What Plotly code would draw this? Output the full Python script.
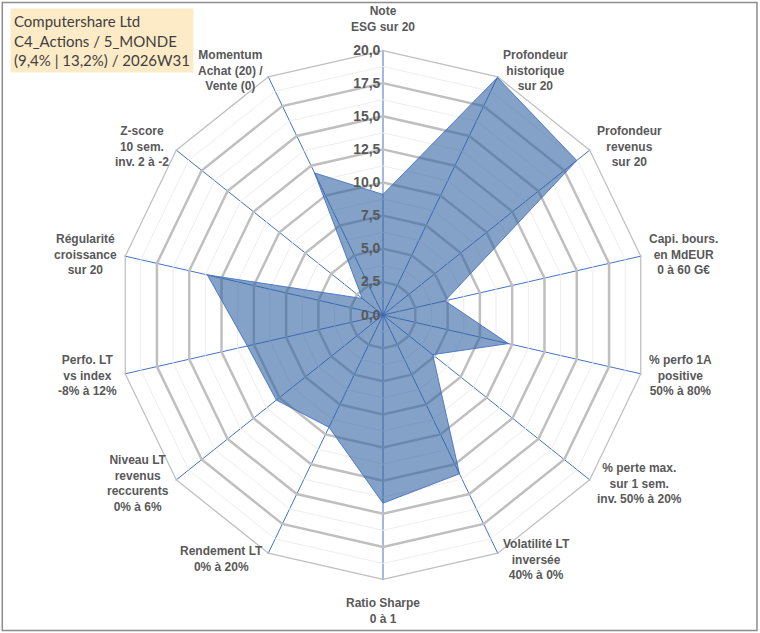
import math
import plotly.graph_objects as go

# axes of the radar, clockwise from the top
categories = [
    'Note<br>ESG sur 20',
    'Profondeur<br>historique<br>sur 20',
    'Profondeur<br>revenus<br>sur 20',
    'Capi. bours.<br>en MdEUR<br>0 à 60 G€',
    '% perfo 1A<br>positive<br>50% à 80%',
    '% perte max.<br>sur 1 sem.<br>inv. 50% à 20%',
    'Volatilité LT<br>inversée<br>40% à 0%',
    'Ratio Sharpe<br>0 à 1',
    'Rendement LT<br>0% à 20%',
    'Niveau LT<br>revenus<br>reccurents<br>0% à 6%',
    'Perfo. LT<br>vs index<br>-8% à 12%',
    'Régularité<br>croissance<br>sur 20',
    'Z-score<br>10 sem.<br>inv. 2 à -2',
    'Momentum<br>Achat (20) /<br>Vente (0)',
]
scores = [9.1, 19.9, 18.7, 4.8, 9.7, 4.8, 13.3, 14.2, 9.4, 10.3, 10.5, 13.6, 2.0, 11.9]

major_ticks = [2.5, 5.0, 7.5, 10.0, 12.5, 15.0, 17.5, 20.0]
minor_ticks = [1.25, 3.75, 6.25, 8.75, 11.25, 13.75, 16.25, 18.75]
tick_labels = ['0,0', '2,5', '5,0', '7,5', '10,0', '12,5', '15,0', '17,5', '20,0']

title_lines = ['Computershare Ltd', 'C4_Actions / 5_MONDE', '(9,4% | 13,2%) / 2026W31']

W, H = 760, 633
cx, cy, R = 383, 315, 265  # centre and outer radius of the radar, px

fig = go.Figure()

# rings: light minor rings, heavier gray major rings
for r in minor_ticks:
    fig.add_trace(go.Scatterpolar(r=[r] * (len(categories) + 1), theta=categories + categories[:1],
                                  mode='lines', line=dict(color='#ededed', width=1),
                                  hoverinfo='skip', showlegend=False))
for r in major_ticks:
    fig.add_trace(go.Scatterpolar(r=[r] * (len(categories) + 1), theta=categories + categories[:1],
                                  mode='lines', line=dict(color='#bfbfbf', width=2.5),
                                  hoverinfo='skip', showlegend=False))

fig.add_trace(go.Scatterpolar(r=scores + scores[:1], theta=categories + categories[:1],
                              mode='lines', fill='toself',
                              fillcolor='rgba(50,98,162,0.6)',
                              line=dict(color='rgba(68,114,196,0.9)', width=1),
                              showlegend=False))

fig.update_layout(
    width=W,
    height=H,
    margin=dict(l=0, r=0, t=0, b=0),
    paper_bgcolor='white',
    separators=', ',
    font=dict(family='Liberation Sans, Arial', color='#595959'),
    polar=dict(
        domain=dict(x=[(cx - R) / W, (cx + R) / W], y=[(H - cy - R) / H, (H - cy + R) / H]),
        gridshape='linear',
        bgcolor='rgba(0,0,0,0)',
        radialaxis=dict(
            range=[0, 20],
            angle=90,
            tickangle=90,
            side='counterclockwise',
            tickvals=[0] + major_ticks,
            ticktext=tick_labels,
            tickfont=dict(size=14, color='#595959', weight='bold'),
            showgrid=False,
            showline=False,
            ticks='',
            layer='above traces',
        ),
        angularaxis=dict(
            rotation=90,
            direction='clockwise',
            gridcolor='#4472c4',
            gridwidth=1,
            showline=False,
            ticks='',
            showticklabels=False,
            layer='above traces',
        ),
    ),
)

# category labels next to each spoke end, lines centred like Excel does
n = len(categories)
for i, label in enumerate(categories):
    a = 2 * math.pi * i / n
    s, c = math.sin(a), math.cos(a)
    if abs(c) > 0.95:
        gap = 14
        xa, ya = 'center', ('bottom' if c > 0 else 'top')
    else:
        gap = 6
        xa, ya = ('left' if s > 0 else 'right'), 'middle'
    px_ = cx + (R + gap) * s
    py_ = cy - (R + gap) * c
    fig.add_annotation(x=px_ / W, y=1 - py_ / H, xref='paper', yref='paper',
                       xanchor=xa, yanchor=ya, align='center', showarrow=False,
                       text='<b>' + label + '</b>',
                       font=dict(size=12, color='#595959', family='Liberation Sans, Arial'))

fig.add_annotation(
    x=10 / W, y=1 - 8 / H, xref='paper', yref='paper', xanchor='left', yanchor='top',
    text='<br>'.join(title_lines), align='left', showarrow=False,
    bgcolor='#fdebc8', borderpad=3,
    font=dict(family='Lato, Open Sans', size=15, color='#404040'),
)

# chart area border
fig.add_shape(type='rect', xref='paper', yref='paper', x0=0.003, y0=0.004, x1=0.996, y1=0.996,
              line=dict(color='#8c8c8c', width=1.5))

fig.write_html('out.html', config={'displayModeBar': False},
               post_script="document.body.style.margin='0';")
